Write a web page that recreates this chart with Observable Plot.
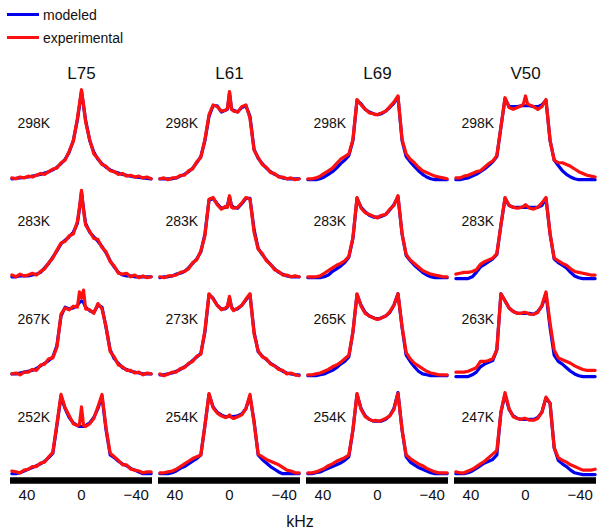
<!DOCTYPE html>
<html><head><meta charset="utf-8">
<script src="https://cdn.jsdelivr.net/npm/d3@7"></script>
<script src="https://cdn.jsdelivr.net/npm/@observablehq/plot@0.6"></script>
<style>
body{margin:0;background:#fff;font-family:"Liberation Sans",Arial,sans-serif;color:#111;}
#legend{position:relative;height:55px;width:600px;}
.sw{position:absolute;left:7px;width:32px;height:3px;}
.lt{position:absolute;left:43px;font-size:14px;line-height:18px;}
#xlabel{width:600px;height:25px;line-height:32px;text-align:center;font-size:16px;}
</style></head><body>
<div id="legend">
  <div class="sw" style="top:13px;background:#0000ee"></div><div class="lt" style="top:6px">modeled</div>
  <div class="sw" style="top:36px;background:#ff1010"></div><div class="lt" style="top:29px">experimental</div>
</div>
<div id="chart"></div>
<div id="xlabel">kHz</div>
<script>
// frequency grid (kHz), shared by all panels
const kHz = [51,48,45,42,39,36,33,30,27,24,21,18,15,12,9,6,3,1.5,0,-1.5,-3,-6,-9,-12,-15,-18,-21,-24,-27,-30,-33,-36,-39,-42,-45,-48,-51];
const residues = ["L75","L61","L69","V50"];
const tempsL75 = ["298K","283K","267K","252K"];
const tempsL61 = ["298K","283K","273K","254K"];
const tempsL69 = ["298K","283K","265K","254K"];
const tempsV50 = ["298K","283K","263K","247K"];
const xTicks = [40,0,-40];

// L75
const L75_298_mod = [.02,.025,.03,.035,.04,.05,.06,.07,.085,.1,.12,.15,.19,.24,.32,.45,.68,.84,1.0,.84,.68,.45,.32,.24,.19,.15,.12,.1,.085,.07,.06,.05,.04,.035,.03,.025,.02];
const L75_298_exp = [.03,.02,.04,.03,.05,.04,.06,.08,.07,.1,.13,.14,.2,.23,.33,.44,.7,.86,1.02,.85,.66,.46,.3,.25,.18,.16,.11,.1,.07,.08,.05,.06,.04,.05,.03,.04,.02];
const L75_283_mod = [.02,.02,.03,.03,.03,.04,.05,.07,.12,.17,.24,.31,.39,.43,.47,.52,.62,.78,.97,.78,.62,.52,.47,.42,.36,.29,.2,.13,.07,.04,.03,.03,.02,.02,.02,.02,.02];
const L75_283_exp = [.04,.02,.05,.03,.04,.06,.04,.08,.11,.18,.23,.32,.4,.42,.48,.5,.64,.8,.99,.76,.6,.53,.45,.44,.35,.3,.19,.14,.06,.05,.06,.02,.04,.01,.03,.01,.02];
const L75_267_mod = [.03,.03,.04,.05,.06,.07,.09,.12,.15,.18,.22,.35,.68,.78,.76,.77,.8,.83,.85,.83,.78,.74,.72,.8,.78,.55,.3,.2,.15,.1,.08,.06,.05,.04,.03,.03,.03];
const L75_267_exp = [.03,.04,.02,.05,.05,.08,.07,.13,.14,.2,.21,.33,.7,.77,.75,.79,.78,.95,.88,.97,.76,.75,.71,.82,.76,.56,.28,.22,.13,.11,.07,.07,.04,.05,.02,.04,.03];
const L75_252_mod = [.01,.01,.02,.04,.06,.08,.1,.12,.15,.19,.24,.55,.88,.74,.64,.58,.55,.54,.54,.54,.55,.58,.64,.74,.88,.5,.22,.19,.15,.12,.1,.07,.05,.03,.01,.01,.01];
const L75_252_exp = [.04,.03,.02,.05,.06,.09,.09,.13,.14,.2,.25,.57,.9,.75,.66,.57,.55,.56,.76,.55,.54,.57,.63,.76,.9,.52,.24,.2,.16,.11,.11,.06,.05,.04,.02,.03,.03];
// L61
const L61_298_mod = [.02,.02,.02,.02,.03,.05,.07,.1,.14,.2,.27,.45,.72,.84,.84,.77,.79,.8,.98,.8,.79,.77,.82,.84,.72,.35,.25,.19,.14,.1,.07,.05,.03,.02,.02,.02,.02];
const L61_298_exp = [.02,.03,.01,.03,.03,.06,.06,.11,.13,.21,.26,.46,.74,.85,.83,.78,.79,.81,1.0,.8,.78,.77,.83,.85,.7,.34,.26,.18,.15,.09,.08,.04,.04,.02,.03,.01,.02];
const L61_283_mod = [.01,.02,.02,.03,.05,.06,.08,.12,.17,.22,.3,.5,.88,.9,.84,.79,.8,.82,.92,.82,.8,.79,.84,.9,.9,.55,.34,.27,.21,.16,.11,.07,.05,.03,.02,.02,.02];
const L61_283_exp = [.02,.01,.03,.03,.04,.07,.08,.11,.18,.21,.31,.48,.89,.91,.83,.78,.81,.8,.93,.8,.79,.8,.85,.91,.89,.52,.33,.28,.2,.16,.1,.08,.04,.04,.02,.03,.02];
const L61_273_mod = [.02,.02,.03,.04,.06,.08,.11,.14,.18,.22,.26,.5,.92,.88,.8,.76,.76,.78,.88,.78,.75,.76,.8,.86,.92,.5,.28,.23,.19,.15,.12,.09,.06,.04,.03,.02,.02];
const L61_273_exp = [.03,.01,.03,.05,.05,.09,.1,.15,.17,.23,.25,.52,.93,.87,.8,.75,.77,.79,.9,.77,.74,.77,.8,.87,.93,.48,.29,.22,.2,.14,.12,.08,.07,.03,.04,.02,.01];
const L61_254_mod = [.01,.01,.01,.02,.04,.07,.09,.12,.15,.18,.22,.55,.9,.76,.7,.67,.65,.65,.66,.65,.65,.66,.68,.74,.88,.6,.22,.17,.13,.09,.06,.03,.01,.01,.01,.01,.01];
const L61_254_exp = [.02,.02,.03,.04,.06,.09,.12,.15,.18,.2,.22,.55,.91,.75,.69,.66,.64,.65,.67,.64,.63,.65,.67,.74,.9,.58,.23,.2,.17,.15,.13,.11,.08,.05,.04,.02,.02];
// L69
const L69_298_mod = [.01,.01,.01,.02,.04,.07,.1,.14,.19,.23,.28,.45,.9,.86,.8,.77,.75,.745,.74,.745,.75,.78,.82,.87,.94,.45,.27,.21,.16,.11,.07,.04,.02,.01,.01,.01,.01];
const L69_298_exp = [.02,.02,.03,.05,.08,.11,.14,.19,.24,.27,.3,.46,.91,.85,.8,.76,.75,.74,.74,.75,.76,.78,.83,.88,.95,.46,.3,.24,.2,.15,.11,.09,.07,.05,.04,.03,.02];
const L69_283_mod = [.01,.01,.01,.01,.02,.04,.08,.11,.14,.18,.24,.45,.9,.8,.75,.71,.69,.69,.69,.69,.7,.72,.77,.83,.92,.5,.26,.2,.15,.11,.07,.04,.02,.01,.01,.01,.01];
const L69_283_exp = [.02,.02,.02,.03,.06,.09,.12,.15,.17,.2,.25,.46,.91,.79,.74,.72,.7,.69,.68,.7,.71,.72,.78,.82,.93,.5,.27,.21,.17,.13,.09,.07,.05,.04,.03,.02,.02];
const L69_265_mod = [.01,.01,.01,.02,.03,.05,.07,.1,.14,.17,.22,.5,.92,.8,.72,.68,.66,.65,.65,.65,.66,.68,.72,.8,.93,.55,.24,.17,.11,.06,.03,.02,.01,.01,.01,.01,.01];
const L69_265_exp = [.02,.02,.03,.04,.06,.08,.11,.13,.16,.2,.24,.5,.93,.79,.71,.68,.66,.65,.64,.65,.66,.68,.73,.8,.93,.56,.27,.2,.15,.12,.09,.06,.04,.03,.02,.02,.02];
const L69_254_mod = [.01,.01,.02,.03,.05,.07,.09,.11,.13,.16,.2,.5,.9,.74,.66,.62,.6,.6,.6,.6,.6,.62,.66,.74,.92,.5,.2,.14,.11,.08,.06,.04,.02,.01,.01,.01,.01];
const L69_254_exp = [.02,.02,.03,.05,.07,.1,.12,.15,.17,.19,.22,.5,.91,.73,.65,.62,.6,.61,.6,.6,.61,.63,.66,.73,.91,.5,.22,.18,.15,.12,.1,.07,.05,.03,.02,.02,.02];
// V50
const V50_298_mod = [.01,.01,.02,.03,.05,.07,.1,.13,.17,.21,.27,.6,.92,.83,.83,.83,.84,.84,.84,.84,.84,.83,.83,.85,.9,.45,.23,.17,.11,.07,.04,.02,.01,.01,.01,.01,.01];
const V50_298_exp = [.03,.03,.05,.06,.08,.1,.11,.15,.19,.22,.28,.6,.93,.82,.8,.82,.84,.86,.95,.86,.85,.83,.8,.83,.91,.45,.23,.2,.2,.18,.16,.13,.1,.08,.06,.05,.04];
const V50_283_mod = [0,0,0,0,.02,.07,.13,.16,.19,.22,.27,.6,.9,.82,.8,.8,.8,.8,.8,.8,.8,.8,.8,.82,.9,.5,.22,.18,.15,.12,.07,.03,.01,0,0,0,0];
const V50_283_exp = [.05,.06,.07,.07,.08,.1,.16,.19,.21,.23,.28,.6,.91,.82,.8,.79,.8,.81,.83,.81,.79,.78,.8,.85,.91,.5,.23,.2,.17,.15,.11,.08,.07,.06,.05,.04,.04];
const V50_263_mod = [0,0,0,0,.02,.05,.11,.14,.16,.18,.3,.93,.85,.77,.73,.71,.71,.71,.71,.71,.71,.7,.73,.79,.93,.55,.24,.17,.14,.1,.06,.03,.01,0,0,0,0];
const V50_263_exp = [.05,.05,.05,.06,.08,.1,.17,.17,.18,.2,.3,.93,.85,.77,.73,.71,.71,.72,.72,.71,.7,.7,.72,.8,.95,.6,.3,.21,.19,.17,.15,.12,.1,.08,.07,.07,.07];
const V50_247_mod = [.01,.01,.01,.02,.04,.07,.1,.13,.15,.17,.22,.7,.9,.73,.66,.63,.62,.62,.62,.62,.62,.62,.64,.7,.86,.8,.3,.16,.12,.09,.05,.02,.01,0,0,0,0];
const V50_247_exp = [.03,.02,.02,.04,.06,.09,.12,.15,.19,.23,.27,.7,.92,.74,.65,.63,.62,.63,.63,.62,.61,.61,.63,.7,.87,.8,.3,.19,.16,.14,.11,.09,.07,.05,.05,.05,.06];

const panels = [
  ["L75",0,tempsL75[0],L75_298_mod,L75_298_exp],["L75",1,tempsL75[1],L75_283_mod,L75_283_exp],
  ["L75",2,tempsL75[2],L75_267_mod,L75_267_exp],["L75",3,tempsL75[3],L75_252_mod,L75_252_exp],
  ["L61",0,tempsL61[0],L61_298_mod,L61_298_exp],["L61",1,tempsL61[1],L61_283_mod,L61_283_exp],
  ["L61",2,tempsL61[2],L61_273_mod,L61_273_exp],["L61",3,tempsL61[3],L61_254_mod,L61_254_exp],
  ["L69",0,tempsL69[0],L69_298_mod,L69_298_exp],["L69",1,tempsL69[1],L69_283_mod,L69_283_exp],
  ["L69",2,tempsL69[2],L69_265_mod,L69_265_exp],["L69",3,tempsL69[3],L69_254_mod,L69_254_exp],
  ["V50",0,tempsV50[0],V50_298_mod,V50_298_exp],["V50",1,tempsV50[1],V50_283_mod,V50_283_exp],
  ["V50",2,tempsV50[2],V50_263_mod,V50_263_exp],["V50",3,tempsV50[3],V50_247_mod,V50_247_exp]
];

const modeled = [], experimental = [], labels = [];
for (const [res,row,t,mod,exp] of panels) {
  kHz.forEach((x,i) => {
    modeled.push({res,row,x,y:mod[i]});
    experimental.push({res,row,x,y:exp[i]});
  });
  labels.push({res,row,t});
}
const titles = residues.map(res => ({res,row:0}));
const bottomRow = residues.map(res => ({res,row:3}));

const chart = Plot.plot({
  width: 600, height: 451,
  marginTop: 35, marginBottom: 22, marginLeft: 8.5, marginRight: 1.5,
  style: {fontFamily: "'Liberation Sans', Arial, sans-serif", fontSize: "15px", color: "#111"},
  fx: {domain: residues, paddingInner: 0.04, paddingOuter: 0, axis: null},
  fy: {domain: [0,1,2,3], padding: 0, axis: null},
  x: {domain: [52,-52], ticks: xTicks, tickSize: 0, tickPadding: 6, label: null},
  y: {domain: [-0.1, 1.0], axis: null},
  marks: [
    Plot.ruleY(bottomRow, {fx: "res", fy: "row", y: -0.065, stroke: "#000", strokeWidth: 6.5}),
    Plot.line(modeled, {fx: "res", fy: "row", x: "x", y: "y", stroke: "#0000ee", strokeWidth: 3.2, strokeLinejoin: "round"}),
    Plot.line(experimental, {fx: "res", fy: "row", x: "x", y: "y", stroke: "#ff1010", strokeWidth: 3.2, strokeLinejoin: "round"}),
    Plot.text(titles, {fx: "res", fy: "row", text: "res", frameAnchor: "top", lineAnchor: "middle", dy: -18, fontSize: 17, fill: "#111"}),
    Plot.text(labels, {fx: "res", fy: "row", text: "t", frameAnchor: "top-left", textAnchor: "start", lineAnchor: "middle", dx: 7, dy: 32, fontSize: 14, fill: "#111"})
  ]
});
document.getElementById("chart").appendChild(chart);
</script>
</body></html>
